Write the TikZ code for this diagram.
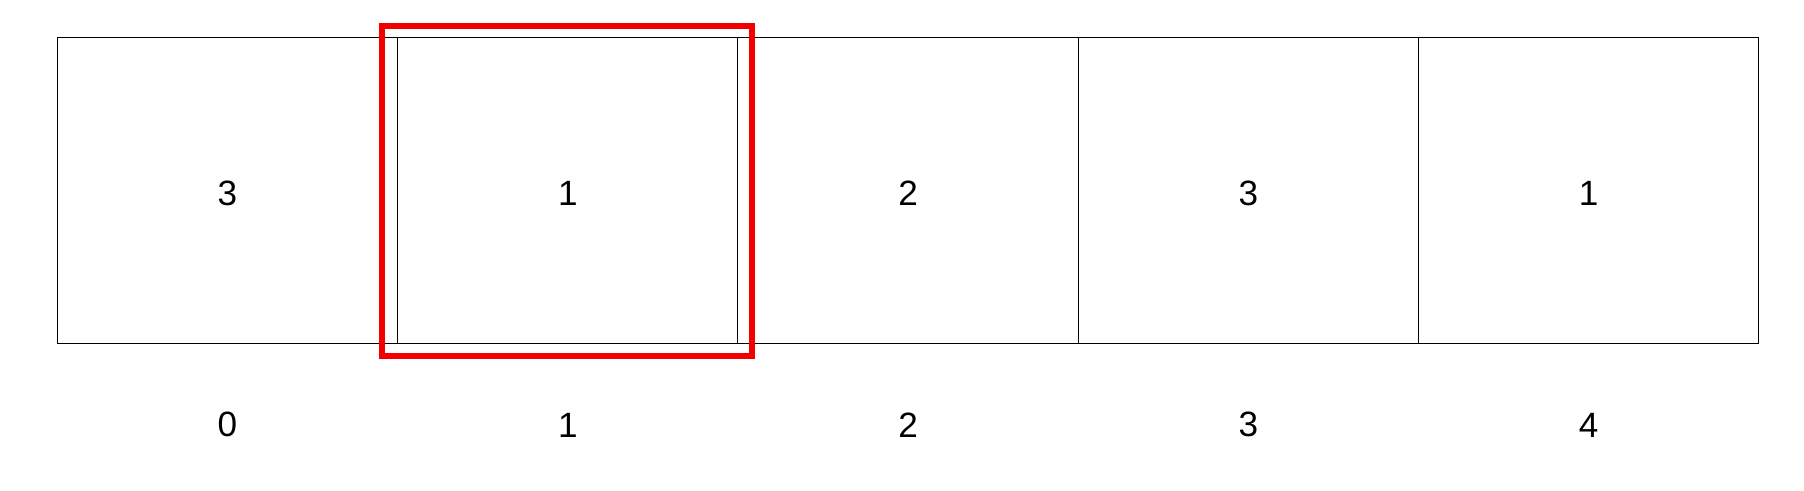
\documentclass[tikz,border=0pt]{standalone}
\usepackage{fontspec}
\setmainfont{Liberation Sans}
\usetikzlibrary{positioning}

\begin{document}
\begin{tikzpicture}[
    cell/.style={draw, line width=0.57pt, minimum width=6.806cm,
                 minimum height=6.134cm, inner sep=0pt, outer sep=0pt,
                 text height=0.6cm, font=\fontsize{20}{24}\selectfont},
    idx/.style={inner sep=0pt, text height=0.6cm, font=\fontsize{20}{24}\selectfont},
    mark box/.style={draw=red!95!black, line width=3.4pt}
  ]
  \useasboundingbox (0,0) rectangle (36.08,9.8);

  % Cells
  \node[cell] (c0) at (4.55,5.988)   {3};
  \node[cell, right=0pt of c0] (c1) {1};
  \node[cell, right=0pt of c1] (c2) {2};
  \node[cell, right=0pt of c2] (c3) {3};
  \node[cell, right=0pt of c3] (c4) {1};

  % Indices
  \node[idx] (i0) at (4.55,1.36)   {0};
  \node[idx] (i1) at (11.356,1.36) {1};
  \node[idx] (i2) at (18.162,1.36) {2};
  \node[idx] (i3) at (24.968,1.36) {3};
  \node[idx] (i4) at (31.774,1.36) {4};

  % Highlight
  \draw[mark box] ([shift={(-0.31,-0.25)}]c1.south west) rectangle ([shift={(0.28,0.22)}]c1.north east);
\end{tikzpicture}
\end{document}
